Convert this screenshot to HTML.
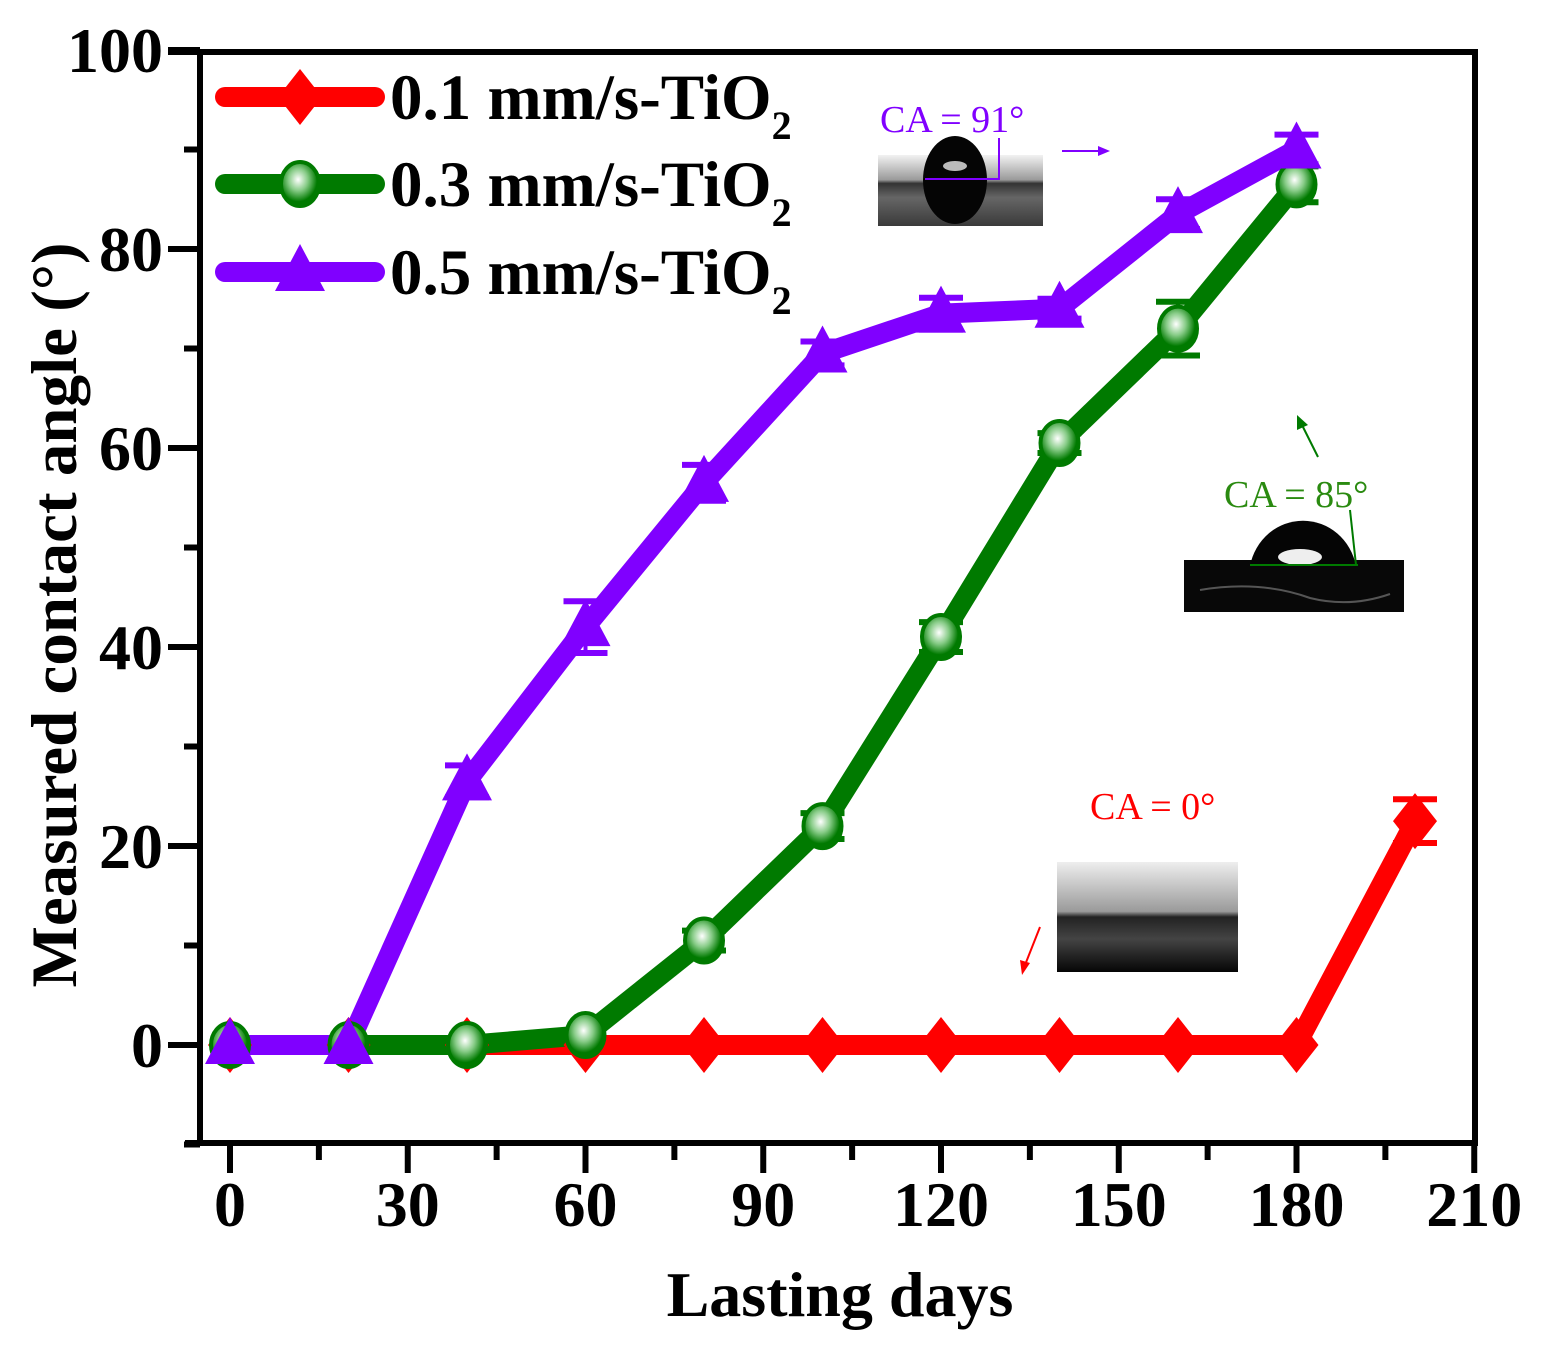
<!DOCTYPE html>
<html><head><meta charset="utf-8"><style>
html,body{margin:0;padding:0;background:#fff;}
svg{display:block;}
</style></head><body>
<svg id="s" width="1553" height="1351" xmlns="http://www.w3.org/2000/svg" font-family="Liberation Serif, serif">
<defs>
<linearGradient id="g1" x1="0" y1="0" x2="0" y2="1">
<stop offset="0" stop-color="#f2f2f2"/><stop offset="0.35" stop-color="#9a9a9a"/><stop offset="0.4" stop-color="#333"/><stop offset="0.6" stop-color="#666"/><stop offset="1" stop-color="#3a3a3a"/></linearGradient>
<linearGradient id="g3" x1="0" y1="0" x2="0" y2="1">
<stop offset="0" stop-color="#eee"/><stop offset="0.45" stop-color="#9a9a9a"/><stop offset="0.5" stop-color="#222"/><stop offset="0.7" stop-color="#444"/><stop offset="1" stop-color="#050505"/></linearGradient>
<radialGradient id="gl" cx="0.45" cy="0.4" r="0.5"><stop offset="0" stop-color="#fff"/><stop offset="0.5" stop-color="#8c8"/><stop offset="1" stop-color="#007a00"/></radialGradient>
</defs>
<g id="frame" stroke="#000" stroke-width="6" fill="none">
<line x1="168" y1="52" x2="1478" y2="52"/>
<line x1="1475" y1="52" x2="1475" y2="1145"/>
<line x1="200" y1="52" x2="200" y2="1145"/>
<line x1="185" y1="1143" x2="1478" y2="1143"/>
</g>
<g id="ticks" stroke="#000" stroke-width="6"></g>
<g id="labels" font-weight="bold" font-size="64" fill="#000"></g>
<text x="0" y="0" font-weight="bold" font-size="65" text-anchor="middle" transform="translate(76,615) rotate(-90)">Measured contact angle (°)</text>
<text x="840" y="1316" font-weight="bold" font-size="64" text-anchor="middle">Lasting days</text>

<!-- insets -->
<rect x="878" y="155" width="165" height="71" fill="url(#g1)"/>
<ellipse cx="955" cy="180" rx="32" ry="44" fill="#050505"/>
<ellipse cx="955" cy="166" rx="12" ry="5" fill="#bbb"/>
<line x1="925" y1="179" x2="1000" y2="179" stroke="#8000ff" stroke-width="2"/>
<line x1="999" y1="138" x2="999" y2="179" stroke="#8000ff" stroke-width="2"/>
<text x="880" y="132" font-size="38" fill="#8000ff">CA = 91°</text>
<line x1="1062" y1="151" x2="1100" y2="151" stroke="#8000ff" stroke-width="2"/>
<polygon points="1110,151 1098,146 1098,156" fill="#8000ff"/>

<rect x="1184" y="560" width="220" height="52" fill="#080808"/>
<path d="M1250,566 A54,56 0 0 1 1356,566 Z" fill="#050505"/>
<ellipse cx="1300" cy="557" rx="22" ry="8" fill="#eee"/>
<line x1="1250" y1="565" x2="1358" y2="565" stroke="#007a00" stroke-width="2"/>
<line x1="1350" y1="510" x2="1356" y2="565" stroke="#007a00" stroke-width="2"/>
<path d="M1200,590 q60,-10 110,8 q40,10 80,-4" stroke="#555" stroke-width="2" fill="none"/>
<text x="1224" y="507" font-size="38" fill="#2a8a10">CA = 85°</text>
<line x1="1318" y1="457" x2="1302" y2="425" stroke="#007a00" stroke-width="2"/>
<polygon points="1297,415 1297,430 1308,425" fill="#007a00"/>

<rect x="1057" y="862" width="181" height="110" fill="url(#g3)"/>
<text x="1090" y="819" font-size="38" fill="#ff0000">CA = 0°</text>
<line x1="1040" y1="927" x2="1025" y2="965" stroke="#ff0000" stroke-width="2"/>
<polygon points="1022,975 1020,960 1030,963" fill="#ff0000"/>

<g id="series"></g>
<g id="legend"></g>
</svg>
<script>
var NS="http://www.w3.org/2000/svg";
function X(d){return 230+5.925*d;}
function Y(v){return 1045-9.95*v;}
function el(p,tag,attrs,txt){var e=document.createElementNS(NS,tag);for(var k in attrs)e.setAttribute(k,attrs[k]);if(txt!=null)e.textContent=txt;document.getElementById(p).appendChild(e);return e;}
for(var v=-10;v<=100;v+=10){var maj=(v%20==0);el("ticks","line",{x1:maj?168:184,y1:Y(v),x2:200,y2:Y(v)});
 if(maj)el("labels","text",{x:163,y:Y(v)+22,"text-anchor":"end"},String(v));}
for(var d=0;d<=210;d+=15){var maj=(d%30==0);el("ticks","line",{x1:X(d),y1:1143,x2:X(d),y2:maj?1173:1160});
 if(maj)el("labels","text",{x:X(d),y:1226,"text-anchor":"middle"},String(d));}
var days=[0,20,40,60,80,100,120,140,160,180,200];
var red=[0,0,0,0,0,0,0,0,0,0,22.5];
var green=[0,0,0,1,10.5,22,41,60.5,72,86.5];
var purp=[0,0,26.5,42,56.5,69.5,73.5,74,83.5,90];
var err={r:{10:2.2},g:{4:1,5:1.3,6:1.5,7:1,8:2.7,9:1.8},p:{2:1.6,3:2.6,4:1.8,5:1.2,6:1.6,7:1,8:1.5,9:1.5}};
function line(data,col){var pts=[];for(var i=0;i<data.length;i++)pts.push(X(days[i])+","+Y(data[i]));
 el("series","polyline",{points:pts.join(" "),fill:"none",stroke:col,"stroke-width":20,"stroke-linejoin":"round","stroke-linecap":"round"});}
function ebar(data,e,col){for(var k in e){var x=X(days[k]),y=Y(data[k]),dy=e[k]*9.95;
 el("series","line",{x1:x,y1:y-dy,x2:x,y2:y+dy,stroke:col,"stroke-width":4});
 el("series","line",{x1:x-22,y1:y-dy,x2:x+22,y2:y-dy,stroke:col,"stroke-width":6});
 el("series","line",{x1:x-22,y1:y+dy,x2:x+22,y2:y+dy,stroke:col,"stroke-width":6});}}
function diamond(g,x,y){el(g,"polygon",{points:(x)+","+(y-28)+" "+(x+22)+","+y+" "+x+","+(y+28)+" "+(x-22)+","+y,fill:"#ff0000"});}
function circ(g,x,y){el(g,"ellipse",{cx:x,cy:y,rx:19,ry:22,fill:"url(#gl)",stroke:"#007a00","stroke-width":4});}
function tri(g,x,y){el(g,"polygon",{points:x+","+(y-28)+" "+(x+25)+","+(y+19)+" "+(x-25)+","+(y+19),fill:"#8000ff"});}
line(red,"#ff0000");ebar(red,err.r,"#ff0000");
line(green,"#007a00");ebar(green,err.g,"#007a00");
line(purp,"#8000ff");ebar(purp,err.p,"#8000ff");
for(var i=0;i<red.length;i++)diamond("series",X(days[i]),Y(red[i]));
for(var i=0;i<green.length;i++)circ("series",X(days[i]),Y(green[i]));
for(var i=0;i<purp.length;i++)tri("series",X(days[i]),Y(purp[i]));
var rows=[[97,"#ff0000",diamond,"0.1"],[184,"#007a00",circ,"0.3"],[272,"#8000ff",tri,"0.5"]];
rows.forEach(function(r){el("legend","line",{x1:225,y1:r[0],x2:375,y2:r[0],stroke:r[1],"stroke-width":20,"stroke-linecap":"round"});
 r[2]("legend",300,r[0]);
 var t=el("legend","text",{x:390,y:r[0]+22,"font-size":65,"font-weight":"bold",fill:"#000"});
 t.textContent=r[3]+" mm/s-TiO";
 var s=document.createElementNS(NS,"tspan");s.setAttribute("font-size","40");s.setAttribute("dy","20");s.textContent="2";t.appendChild(s);});
</script>
</body></html>
